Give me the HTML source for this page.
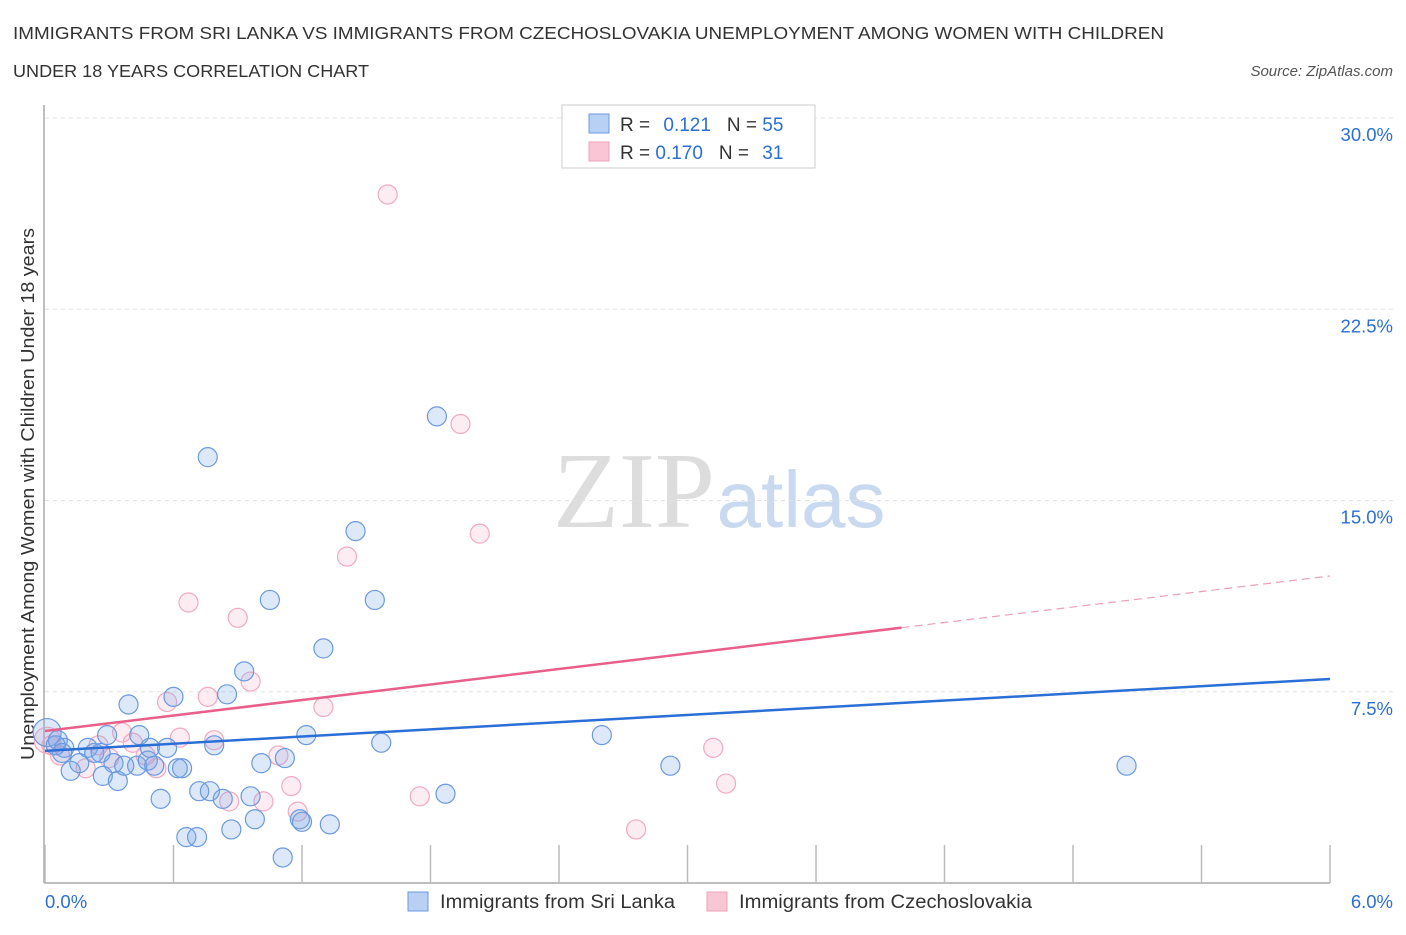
<!DOCTYPE html>
<html><head><meta charset="utf-8"><style>
body{margin:0;background:#fff;font-family:"Liberation Sans",sans-serif;}
</style></head><body>
<svg id="c" width="1406" height="930" xmlns="http://www.w3.org/2000/svg" style="font-family:'Liberation Sans',sans-serif">
<text x="13" y="39" font-size="17.5" fill="#333" textLength="1151" lengthAdjust="spacingAndGlyphs">IMMIGRANTS FROM SRI LANKA VS IMMIGRANTS FROM CZECHOSLOVAKIA UNEMPLOYMENT AMONG WOMEN WITH CHILDREN</text>
<text x="13" y="77" font-size="17.5" fill="#333" textLength="356" lengthAdjust="spacingAndGlyphs">UNDER 18 YEARS CORRELATION CHART</text>
<text x="1393" y="76" font-size="15" fill="#555" font-style="italic" text-anchor="end">Source: ZipAtlas.com</text>
<text x="634" y="527" font-size="108" fill="#ddd" font-family="Liberation Serif,serif" text-anchor="middle">ZIP</text>
<text x="801" y="527" font-size="80" fill="#c9daf0" text-anchor="middle">atlas</text>
<text transform="translate(34,494) rotate(-90)" font-size="18" fill="#333" text-anchor="middle" textLength="532" lengthAdjust="spacingAndGlyphs">Unemployment Among Women with Children Under 18 years</text>
<g id="grid"></g><g id="pts"></g><g id="lines"></g>
<g>
<rect x="562" y="105" width="253" height="63" fill="#fff" stroke="#ccc"/>
<rect x="589" y="114" width="20" height="19" fill="#b8d0f4" stroke="#6a9ae0"/>
<rect x="589" y="142" width="20" height="19" fill="#f8c6d4" stroke="#f0a0b8"/>
<text x="620" y="131" font-size="19" fill="#333">R = <tspan fill="#2a6fd6" dx="8">0.121</tspan><tspan dx="16" fill="#333">N = </tspan><tspan fill="#2a6fd6">55</tspan></text>
<text x="620" y="159" font-size="19" fill="#333">R = <tspan fill="#2a6fd6">0.170</tspan><tspan dx="16" fill="#333">N = </tspan><tspan fill="#2a6fd6" dx="8">31</tspan></text>
</g>
<g>
<rect x="408" y="892" width="20" height="19" fill="#b8d0f4" stroke="#6a9ae0"/>
<text x="440" y="908" font-size="19" fill="#333" textLength="235" lengthAdjust="spacingAndGlyphs">Immigrants from Sri Lanka</text>
<rect x="707" y="892" width="20" height="19" fill="#f8c6d4" stroke="#f0a0b8"/>
<text x="739" y="908" font-size="19" fill="#333" textLength="293" lengthAdjust="spacingAndGlyphs">Immigrants from Czechoslovakia</text>
</g>
</svg>
<script>
const xTicks=[0,0.6,1.2,1.8,2.4,3.0,3.6,4.2,4.8,5.4,6.0];
const yTicks=[7.5,15,22.5,30];
const yTickLabels=["7.5%","15.0%","22.5%","30.0%"];
const blueX=[0.01,0.06,0.09,0.12,0.16,0.2,0.23,0.27,0.29,0.32,0.34,0.37,0.39,0.43,0.44,0.48,0.49,0.54,0.57,0.6,0.62,0.64,0.66,0.71,0.72,0.76,0.77,0.79,0.83,0.85,0.87,0.93,0.96,0.98,1.01,1.05,1.12,1.11,1.19,1.22,1.3,1.33,1.45,1.54,1.57,1.83,1.87,2.6,2.92,5.05,0.05,0.08,0.26,1.2,0.51];
const blueY=[5.9,5.6,5.3,4.4,4.7,5.3,5.1,4.2,5.8,4.7,4.0,4.6,7.0,4.6,5.8,4.8,5.3,3.3,5.3,7.3,4.5,4.5,1.8,1.8,3.6,16.7,3.6,5.4,3.3,7.4,2.1,8.3,3.4,2.5,4.7,11.1,4.9,1.0,2.5,5.8,9.2,2.3,13.8,11.1,5.5,18.3,3.5,5.8,4.6,4.6,5.4,5.1,5.1,2.4,4.6];
const pinkX=[0.01,0.03,0.07,0.19,0.25,0.3,0.36,0.41,0.47,0.52,0.57,0.63,0.67,0.76,0.79,0.86,0.9,0.96,1.02,1.09,1.15,1.18,1.3,1.41,1.6,1.75,1.94,2.03,2.76,3.12,3.18];
const pinkY=[5.6,5.4,5.0,4.5,5.4,4.9,5.9,5.5,5.0,4.5,7.1,5.7,11.0,7.3,5.6,3.2,10.4,7.9,3.2,5.0,3.8,2.8,6.9,12.8,27.0,3.4,18.0,13.7,2.1,5.3,3.9];
const blueFit=[5.18,8.0];
const pinkFit=[5.96,12.04];
const pinkSolidEnd=4.0;
const X=v=>45+v*214.17, Y=v=>883-v*25.5;
const NS="http://www.w3.org/2000/svg";
function mk(t,a,p){const e=document.createElementNS(NS,t);for(const k in a)e.setAttribute(k,a[k]);p.appendChild(e);return e;}
const g=document.getElementById('grid');
yTicks.forEach((t,i)=>{
 const l=mk('line',{x1:45,x2:1393,y1:Y(t),y2:Y(t),stroke:'#e2e2e2','stroke-dasharray':'4,4'},g);
 
 
 const tx=mk('text',{x:1393,y:Y(t)+23,'font-size':18.5,fill:'#2a6fd6','text-anchor':'end'},g);
 tx.textContent=yTickLabels[i];
 
 
});
const ax=mk('line',{x1:44,x2:44,y1:105,y2:883,stroke:'#aaa','stroke-width':1.5},g);


const bx=mk('line',{x1:44,x2:1330,y1:883,y2:883,stroke:'#aaa','stroke-width':1.5},g);


xTicks.forEach(t=>{const l=mk('line',{x1:X(t),x2:X(t),y1:845,y2:883,stroke:'#bbb','stroke-width':1.5},g);
 
 });
let t0=mk('text',{x:45,y:908,'font-size':18.5,fill:'#2a6fd6'},g);t0.textContent='0.0%';


let t1=mk('text',{x:1393,y:908,'font-size':18.5,fill:'#2a6fd6','text-anchor':'end'},g);t1.textContent='6.0%';


const p=document.getElementById('pts');
pinkX.forEach((v,i)=>{const c=mk('circle',{cx:X(v),cy:Y(pinkY[i]),r:i==0?13:9.5,fill:'rgba(244,170,195,0.22)',stroke:'#f2aac0','stroke-width':1.2},p);
 
 });
blueX.forEach((v,i)=>{const c=mk('circle',{cx:X(v),cy:Y(blueY[i]),r:i==0?14:9.5,fill:'rgba(120,165,230,0.25)',stroke:'#6a9ae0','stroke-width':1.2},p);
 
 });
const L=document.getElementById('lines');
const f=(fit,x)=>fit[0]+(fit[1]-fit[0])*x/6;
let bl=mk('line',{x1:X(0),y1:Y(f(blueFit,0)),x2:X(6),y2:Y(f(blueFit,6)),stroke:'#2a6fd6','stroke-width':2.5},L);


let pl=mk('line',{x1:X(0),y1:Y(f(pinkFit,0)),x2:X(pinkSolidEnd),y2:Y(f(pinkFit,pinkSolidEnd)),stroke:'#e8608a','stroke-width':2.5},L);


let pd=mk('line',{x1:X(pinkSolidEnd),y1:Y(f(pinkFit,pinkSolidEnd)),x2:X(6),y2:Y(f(pinkFit,6)),stroke:'#e8a0b8','stroke-width':1.2,'stroke-dasharray':'8,5'},L);


</script>
</body></html>
